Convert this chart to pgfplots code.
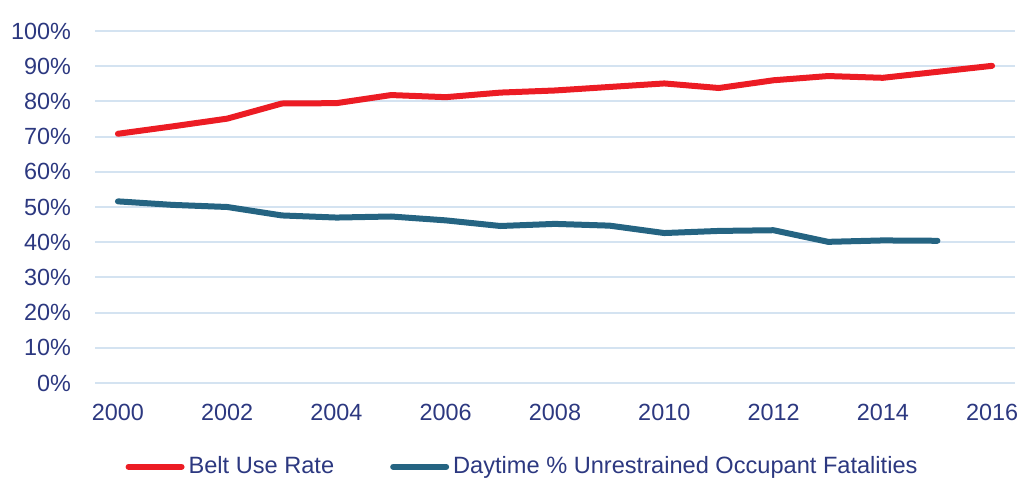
\documentclass[border=0pt]{standalone}
\usepackage{pgfplots}
\pgfplotsset{compat=1.18}
\usepackage{fontspec}
\setmainfont{Liberation Sans}
\definecolor{txt}{RGB}{44,56,128}
\definecolor{redl}{RGB}{236,28,36}
\definecolor{bluel}{RGB}{37,100,130}
\definecolor{gridc}{RGB}{212,227,241}
\begin{document}
\begin{tikzpicture}
\path[use as bounding box] (0,0) rectangle (510.5pt,240pt);
\begin{axis}[
  at={(47.5pt,48.5pt)}, anchor=south west,
  scale only axis, width=460pt, height=176pt,
  xmin=1999.58, xmax=2016.42, ymin=0, ymax=100,
  axis line style={draw=none},
  xtick={2000,2002,...,2016}, ytick={0,10,...,100},
  major tick length=0pt,
  xmajorgrids=false, ymajorgrids=true,
  major grid style={draw=gridc, line width=1pt},
  xticklabel style={yshift=-7pt},
  xticklabel={\pgfmathprintnumber[1000 sep={}]{\tick}},
  yticklabel={\pgfmathprintnumber{\tick}\%},
  yticklabel style={xshift=-8.5pt},
  /pgf/number format/assume math mode=true,
  tick label style={font=\fontsize{11.7}{13}\selectfont, text=txt},
  legend columns=2,
  legend style={draw=none, fill=none, at={(0.4658,-0.238)}, anchor=center,
    font=\fontsize{11.8}{13}\selectfont, text=txt,
    /tikz/every even column/.append style={column sep=26pt},
    inner sep=0pt},
  legend image code/.code={\draw[#1] (1.5pt,0pt) -- (28pt,0pt);},
]
\addplot[redl, line width=3pt, line join=round, line cap=round] coordinates {
(2000,70.8) (2001,72.9) (2002,75.1) (2003,79.4) (2004,79.5) (2005,81.8)
(2006,81.2) (2007,82.5) (2008,83.1) (2009,84.1) (2010,85.1) (2011,83.8)
(2012,86.0) (2013,87.2) (2014,86.7) (2015,88.4) (2016,90.1)};
\addlegendentry{Belt Use Rate}
\addplot[bluel, line width=3pt, line join=round, line cap=round] coordinates {
(2000,51.6) (2001,50.6) (2002,50.0) (2003,47.6) (2004,47.0) (2005,47.3)
(2006,46.2) (2007,44.6) (2008,45.2) (2009,44.7) (2010,42.6) (2011,43.2)
(2012,43.4) (2013,40.1) (2014,40.5) (2015,40.4)};
\addlegendentry{Daytime \% Unrestrained Occupant Fatalities}
\end{axis}
\end{tikzpicture}
\end{document}
